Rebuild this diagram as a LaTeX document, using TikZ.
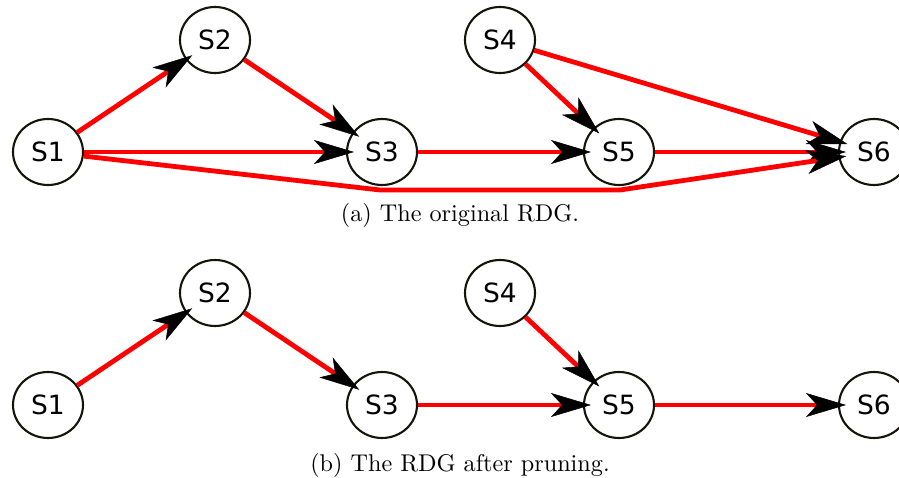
\documentclass[tikz,border=0pt]{standalone}
\usepackage{fontspec}
\newfontfamily\nodefont{DejaVu Sans}
\usetikzlibrary{arrows.meta,shapes.geometric}
\begin{document}
\begin{tikzpicture}[x=1pt,y=-1pt,
  st/.style={ellipse, draw={rgb,255:red,20;green,20;blue,10}, line width=2.1pt, minimum width=70pt, minimum height=66pt, inner sep=0pt, font=\nodefont\fontsize{26.5}{30}\selectfont},
  edge/.style={red, line width=4.8pt, line join=round, -{Stealth[color=black,line width=0.5pt,length=40pt,width=24pt,inset=11pt]}, shorten >=-8pt},
  captext/.style={scale=2.42, inner sep=0pt, font=\normalsize}]
\useasboundingbox (0,0) rectangle (899,478);
% (a)
\node[st] (a1) at (48,152) {S1};
\node[st] (a2) at (215,40) {S2};
\node[st] (a3) at (382,152) {S3};
\node[st] (a4) at (500,40) {S4};
\node[st] (a5) at (619,152) {S5};
\node[st] (a6) at (874,152) {S6};
\coordinate (ac1) at (380,190);
\coordinate (ac2) at (620,190);
\draw[edge] (a1) -- (a2);
\draw[edge] (a2) -- (a3);
\draw[edge] (a1) -- (a3);
\draw[edge] (a3) -- (a5);
\draw[edge] (a4) -- (a5);
\draw[edge] (a4) -- (a6);
\draw[edge] (a5) -- (a6);
\draw[edge] (a1) -- (ac1) -- (ac2) -- (a6);
\node[captext] (capa) at (460,215) {(a) The original RDG.};
% (b)
\node[st] (b1) at (48,405) {S1};
\node[st] (b2) at (215,293) {S2};
\node[st] (b3) at (382,405) {S3};
\node[st] (b4) at (500,293) {S4};
\node[st] (b5) at (619,405) {S5};
\node[st] (b6) at (874,405) {S6};
\draw[edge] (b1) -- (b2);
\draw[edge] (b2) -- (b3);
\draw[edge] (b3) -- (b5);
\draw[edge] (b4) -- (b5);
\draw[edge] (b5) -- (b6);
\node[captext] (capb) at (460,465) {(b) The RDG after pruning.};
\end{tikzpicture}
\end{document}
